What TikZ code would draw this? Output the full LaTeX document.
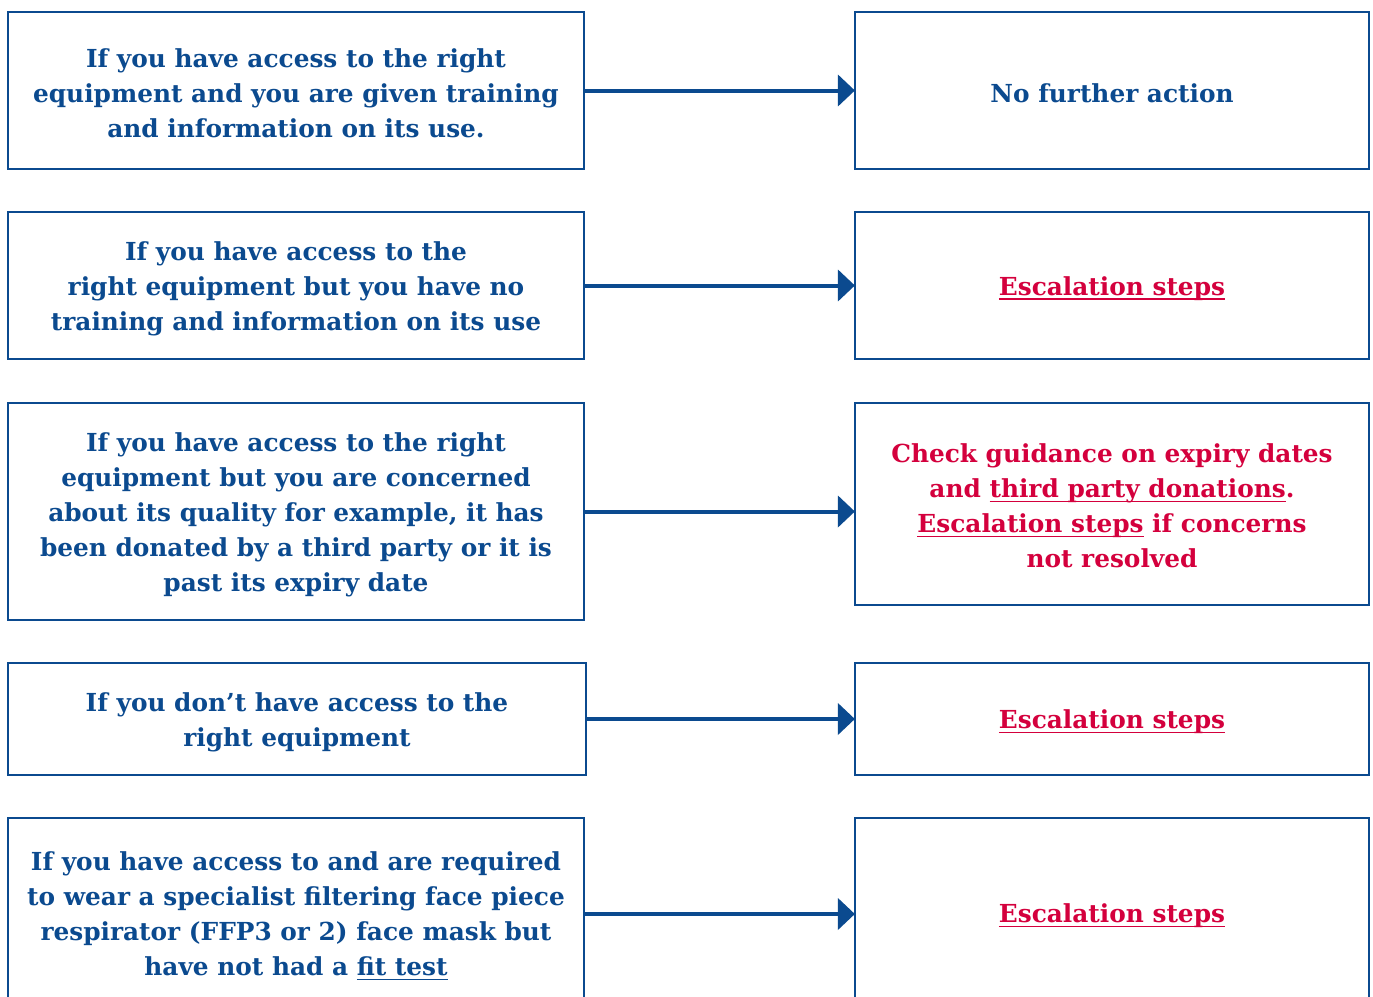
\documentclass[tikz,border=0pt]{standalone}
\usepackage{fontspec}
\setmainfont{DejaVu Serif}
\usetikzlibrary{arrows.meta}
\definecolor{nblue}{HTML}{0B4A8F}
\definecolor{nred}{HTML}{D4003D}
\newcommand\myul[1]{\setbox0\hbox{#1}\rlap{\rule[-4.5pt]{\wd0}{1.6pt}}\box0\relax}
\tikzset{
  box/.style={draw=nblue, line width=2.2pt, rectangle, inner sep=0pt},
  lbox/.style={box, minimum width=576pt},
  rbox/.style={box, minimum width=514pt},
  txt/.style={inner sep=0pt, align=center, font=\bfseries\fontsize{24.8}{35}\selectfont},
  btxt/.style={txt, text=nblue},
  rtxt/.style={txt, text=nred},
  conn/.style={draw=nblue, line width=4pt, -{Triangle[length=17pt,width=31pt]}, shorten >=-1pt}
}
\begin{document}
\begin{tikzpicture}[x=1pt,y=-1pt]
\useasboundingbox (0,0) rectangle (1373,996);
\clip (0,0) rectangle (1373,996);
\fill[white] (0,0) rectangle (1373,996);
% boxes
\node[lbox, minimum height=157pt] (l1) at (296,90.5) {};
\node[rbox, minimum height=157pt] (r1) at (1112,90.5) {};
\node[lbox, minimum height=147pt] (l2) at (296,285.5) {};
\node[rbox, minimum height=147pt] (r2) at (1112,285.5) {};
\node[lbox, minimum height=217pt] (l3) at (296,511.5) {};
\node[rbox, minimum height=202pt] (r3) at (1112,504) {};
\node[lbox, minimum width=578pt, minimum height=112pt] (l4) at (297,719) {};
\node[rbox, minimum height=112pt] (r4) at (1112,719) {};
\node[lbox, minimum height=192pt] (l5) at (296,914) {};
\node[rbox, minimum height=192pt] (r5) at (1112,914) {};
% texts
\node[btxt] (tl1) at ([yshift=-2.5pt]l1.center) {If you have access to the right\\equipment and you are given training\\and information on its use.};
\node[btxt] (tr1) at ([yshift=-2.5pt]r1.center) {No further action};
\node[btxt] (tl2) at ([yshift=-3pt]l2.center) {If you have access to the\\right equipment but you have no\\training and information on its use};
\node[rtxt] (tr2) at ([yshift=-3pt]r2.center) {\myul{Escalation steps}};
\node[btxt] (tl3) at ([yshift=-3pt]l3.center) {If you have access to the right\\equipment but you are concerned\\about its quality for example, it has\\been donated by a third party or it is\\past its expiry date};
\node[rtxt] (tr3) at ([yshift=-2pt]r3.center) {Check guidance on expiry dates\\and \myul{third party donations}.\\\myul{Escalation steps} if concerns\\not resolved};
\node[btxt] (tl4) at ([yshift=-3pt]l4.center) {If you don’t have access to the\\right equipment};
\node[rtxt] (tr4) at ([yshift=-3pt]r4.center) {\myul{Escalation steps}};
\node[btxt] (tl5) at ([yshift=-2pt]l5.center) {If you have access to and are required\\to wear a specialist filtering face piece\\respirator (FFP3 or 2) face mask but\\have not had a \myul{fit test}};
\node[rtxt] (tr5) at ([yshift=-2pt]r5.center) {\myul{Escalation steps}};
% connectors
\draw[conn] (l1.east) -- (l1.east -| r1.west);
\draw[conn] (l2.east) -- (l2.east -| r2.west);
\draw[conn] (l3.east) -- (l3.east -| r3.west);
\draw[conn] (l4.east) -- (l4.east -| r4.west);
\draw[conn] (l5.east) -- (l5.east -| r5.west);
\end{tikzpicture}
\end{document}
